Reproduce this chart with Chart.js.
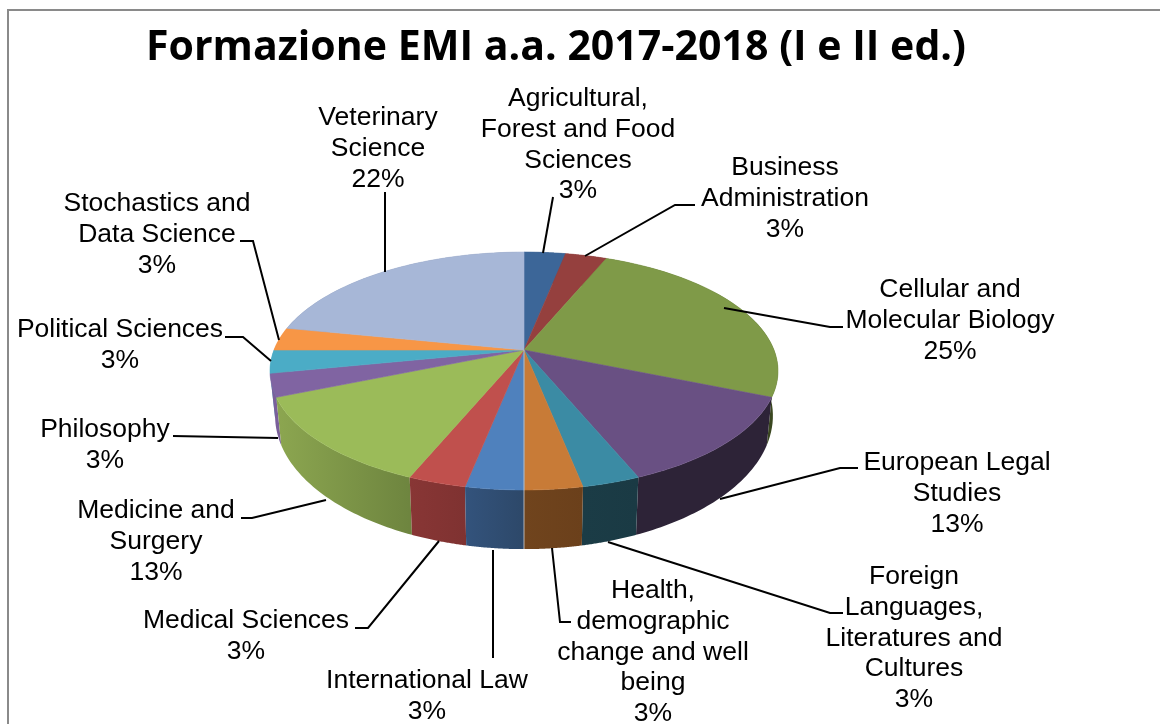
<!DOCTYPE html>
<html>
<head>
<meta charset="utf-8">
<style>html,body{margin:0;padding:0;background:#fff}canvas{display:block}</style>
<script src="https://cdn.jsdelivr.net/npm/chart.js@4/dist/chart.umd.min.js"></script>
</head>
<body>
<canvas id="c" width="1160" height="724"></canvas>
<script>
const chartTitle = 'Formazione EMI a.a. 2017-2018 (I e II ed.)';
const categories = ['Agricultural,\nForest and Food\nSciences','Business\nAdministration','Cellular and\nMolecular Biology','European Legal\nStudies','Foreign\nLanguages,\nLiteratures and\nCultures','Health,\ndemographic\nchange and well\nbeing','International Law','Medical Sciences','Medicine and\nSurgery','Philosophy','Political Sciences','Stochastics and\nData Science','Veterinary\nScience'];
const courses = [1,1,8,4,1,1,1,1,4,1,1,1,7];
const topColors = ['#3c6698','#95403e','#7f9a48','#695083','#3b8ba4','#c87b37','#4f81bd','#c0504d','#9bbb59','#8064a2','#4bacc6','#f79646','#a7b7d7'];
const wallLight = ['#2c4a70','#6e2f2e','#404e24','#2d2337','#1b3c46','#70441d','#33537c','#883635','#8ca650','#7a5f9a','#4bacc6','#f79646','#7886a0'];
const wallDark  = ['#2c4a70','#6e2f2e','#3a4720','#2d2337','#1a3a44','#6b401b','#2d4869','#7f3231','#6e853f','#7a5f9a','#4bacc6','#f79646','#7886a0'];
const labelX = [578,785,950,957,914,653,427,246,156,105,120,157,378];
const labelY = [99,168,290,463,577,591,681,621,511,430,330,204,118];
const leaders = [
 [[553,197],[543,253]],
 [[695,205],[675,205],[585,256]],
 [[843,327],[830,327],[724,308]],
 [[858,468],[840,468],[720,499]],
 [[843,613],[830,613],[608,542]],
 [[552,548],[560,622],[571,622]],
 [[493,550],[493,658]],
 [[355,628],[368,628],[439,541]],
 [[241,518],[252,518],[326,500]],
 [[173,436],[278,438]],
 [[225,337],[243,337],[271,361]],
 [[240,241],[253,241],[279,340]],
 [[385,192],[385,272]]
];
const perspective = 0.1765, squash = 0.461;

const total = courses.reduce((a,b)=>a+b,0);

const pie3d = {
  id:'pie3d',
  beforeDraw(chart){
    const c = chart.ctx;
    c.save();
    c.fillStyle='#fff'; c.fillRect(0,0,chart.width,chart.height);
    c.strokeStyle='#8a8a8a'; c.lineWidth=2;
    c.beginPath(); c.moveTo(8,724); c.lineTo(8,10); c.lineTo(1160,10); c.stroke();
    c.restore();
  },
  beforeDatasetsDraw(chart){
    const c = chart.ctx, arcs = chart.getDatasetMeta(0).data;
    const cx = arcs[0].x, cy = arcs[0].y, R = arcs[0].outerRadius;
    const proj = a => {
      const u=Math.cos(a), v=Math.sin(a), w=1-perspective*v;
      return [cx+R*u/w, cy+R*squash*v/w];
    };
    const drop = p => {
      const d=48+0.12*(p[1]-397);
      return [cx+0.98*(p[0]-cx), p[1]+d];
    };
    const N=48;
    const rim = arc => {
      const pts=[];
      for(let i=0;i<=N;i++) pts.push(proj(arc.startAngle+(arc.endAngle-arc.startAngle)*i/N));
      return pts;
    };
    c.save();
    const order = arcs.map((a,i)=>i).sort((i,j)=>Math.sin((arcs[i].startAngle+arcs[i].endAngle)/2)-Math.sin((arcs[j].startAngle+arcs[j].endAngle)/2));
    order.forEach(i=>{
      const pts=rim(arcs[i]), low=pts.map(drop);
      const xs=pts.map(p=>p[0]);
      const g=c.createLinearGradient(Math.min(...xs),0,Math.max(...xs),0);
      g.addColorStop(0,wallLight[i]); g.addColorStop(1,wallDark[i]);
      c.beginPath();
      pts.forEach((p,k)=>k?c.lineTo(p[0],p[1]):c.moveTo(p[0],p[1]));
      low.reverse().forEach(p=>c.lineTo(p[0],p[1]));
      c.closePath();
      c.fillStyle=g; c.fill();
    });
    arcs.forEach((arc,i)=>{
      c.beginPath(); c.moveTo(cx,cy);
      rim(arc).forEach(p=>c.lineTo(p[0],p[1]));
      c.closePath();
      c.fillStyle=topColors[i]; c.strokeStyle=topColors[i]; c.lineWidth=0.6;
      c.fill(); c.stroke();
    });
    const front = proj(Math.PI/2);
    c.strokeStyle='rgba(205,205,205,0.7)'; c.lineWidth=1.2;
    c.beginPath(); c.moveTo(cx,cy); c.lineTo(front[0],drop(front)[1]); c.stroke();
    c.restore();
    return false;
  },
  afterDraw(chart){
    const c = chart.ctx;
    c.save();
    c.fillStyle='#000'; c.textAlign='center'; c.textBaseline='alphabetic';
    c.font='bold 40.5px "Open Sans"';
    const tw=c.measureText(chartTitle).width;
    c.save();
    c.translate(556,60); c.scale(820/tw,1);
    c.fillText(chartTitle,0,0);
    c.restore();
    c.strokeStyle='#000'; c.lineWidth=2; c.lineJoin='miter';
    leaders.forEach(l=>{
      c.beginPath();
      l.forEach((p,k)=>k?c.lineTo(p[0],p[1]):c.moveTo(p[0],p[1]));
      c.stroke();
    });
    c.font='26.5px "Liberation Sans"'; c.textBaseline='middle';
    categories.forEach((name,i)=>{
      const lines=name.split('\n').concat(Math.round(courses[i]/total*100)+'%');
      lines.forEach((t,k)=>c.fillText(t,labelX[i],labelY[i]+k*30.7));
    });
    c.restore();
  }
};

new Chart(document.getElementById('c'),{
  type:'pie',
  data:{labels:categories,datasets:[{data:courses,backgroundColor:topColors,borderWidth:0}]},
  plugins:[pie3d],
  options:{
    responsive:false,animation:false,devicePixelRatio:1,
    layout:{padding:{left:274,right:386,top:100,bottom:124}},
    plugins:{legend:{display:false},tooltip:{enabled:false},title:{display:false}}
  }
});
</script>
</body>
</html>
